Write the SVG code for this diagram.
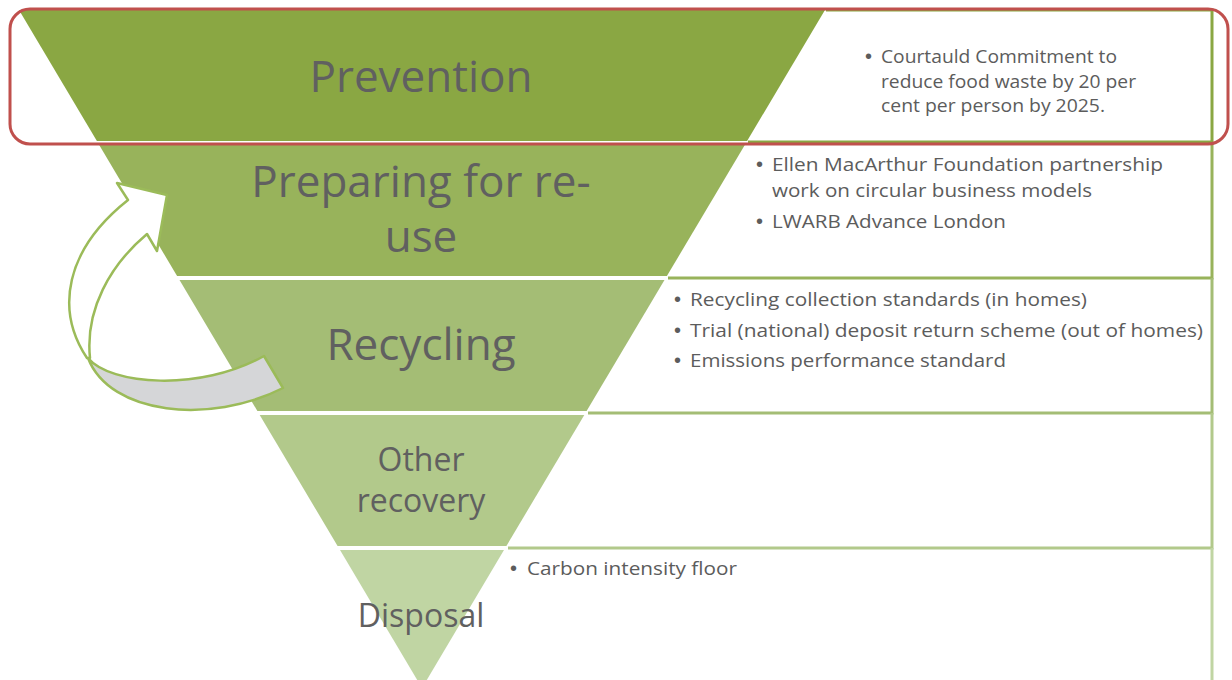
<svg xmlns="http://www.w3.org/2000/svg" width="1232" height="680" viewBox="0 0 1232 680">
<style>
.lbl{font-family:"Open Sans","Liberation Sans",sans-serif;fill:#606060;text-anchor:middle}
.big{font-size:44px}
.mid{font-size:32px}
.txt{font-family:"Open Sans","Liberation Sans",sans-serif;font-size:18px;fill:#5c5c5c}
.bul{font-family:"Liberation Sans",sans-serif;font-size:20px;fill:#5c5c5c}
.box{fill:none;stroke-width:3}
.arrow{stroke:#9bbb59;stroke-width:2.5;stroke-linejoin:round}
</style>
<rect width="1232" height="680" fill="#ffffff"/>
<g id="prevention">
<polygon points="19,10 825,10 747.1,141 96.9,141" fill="#8aa743"/>
<path class="box" stroke="#8aa743" d="M826,10 H1212 V142 H748"/>
<text class="lbl big" x="421" y="92">Prevention</text>
<text class="bul" x="865" y="63">•</text>
<text class="txt" x="881" y="63" textLength="236" lengthAdjust="spacingAndGlyphs">Courtauld Commitment to</text>
<text class="txt" x="881" y="88" textLength="255" lengthAdjust="spacingAndGlyphs">reduce food waste by 20 per</text>
<text class="txt" x="881" y="112" textLength="224" lengthAdjust="spacingAndGlyphs">cent per person by 2025.</text>
</g>
<g id="preparing">
<polygon points="98.6,144 745.4,144 666.9,276 177.1,276" fill="#98b35b"/>
<path class="box" stroke="#98b35b" d="M1212,142 V278 H668"/>
<text class="lbl big" x="421" y="197">Preparing for re-</text>
<text class="lbl big" x="421" y="252">use</text>
<text class="bul" x="756" y="171">•</text>
<text class="txt" x="772" y="171" textLength="391" lengthAdjust="spacingAndGlyphs">Ellen MacArthur Foundation partnership</text>
<text class="txt" x="772" y="197" textLength="320" lengthAdjust="spacingAndGlyphs">work on circular business models</text>
<text class="bul" x="756" y="228">•</text>
<text class="txt" x="772" y="228" textLength="234" lengthAdjust="spacingAndGlyphs">LWARB Advance London</text>
</g>
<g id="recycling">
<polygon points="179.5,280 664.5,280 586.6,411 257.4,411" fill="#a4bd75"/>
<path class="box" stroke="#a4bd75" d="M1212,278 V413 H588"/>
<text class="lbl big" x="421" y="360">Recycling</text>
<text class="bul" x="674" y="306">•</text>
<text class="txt" x="690" y="306" textLength="397" lengthAdjust="spacingAndGlyphs">Recycling collection standards (in homes)</text>
<text class="bul" x="674" y="337">•</text>
<text class="txt" x="690" y="337" textLength="513" lengthAdjust="spacingAndGlyphs">Trial (national) deposit return scheme (out of homes)</text>
<text class="bul" x="674" y="367">•</text>
<text class="txt" x="690" y="367" textLength="316" lengthAdjust="spacingAndGlyphs">Emissions performance standard</text>
</g>
<g id="other-recovery">
<polygon points="259.7,415 584.3,415 506.4,546 337.6,546" fill="#b2c98b"/>
<path class="box" stroke="#b2c98b" d="M1212,413 V548 H508"/>
<text class="lbl mid" x="421" y="471">Other</text>
<text class="lbl mid" x="421" y="512">recovery</text>
</g>
<g id="disposal">
<polygon points="340,550 504,550 422,688" fill="#c0d5a3"/>
<path class="box" stroke="#c0d5a3" d="M1212,548 V690"/>
<text class="lbl mid" x="421" y="627">Disposal</text>
<text class="bul" x="510" y="575">•</text>
<text class="txt" x="527" y="575" textLength="210" lengthAdjust="spacingAndGlyphs">Carbon intensity floor</text>
</g>
<g id="connectors">
<path class="arrow" fill="#d5d6d8" d="M88,358 C110,385 200,392 264,356 L283,388 C210,425 110,415 88,358 Z"/>
<path class="arrow" fill="#ffffff" d="M87,358 C55,310 65,250 128,200 L117,183 L167,195 L157,251 L147,234 C110,265 85,310 90,358 Z"/>
</g>
<g id="highlight">
<rect x="10" y="9" width="1218" height="135" rx="20" ry="20" fill="none" stroke="#c0504d" stroke-width="3"/>
</g>
</svg>
